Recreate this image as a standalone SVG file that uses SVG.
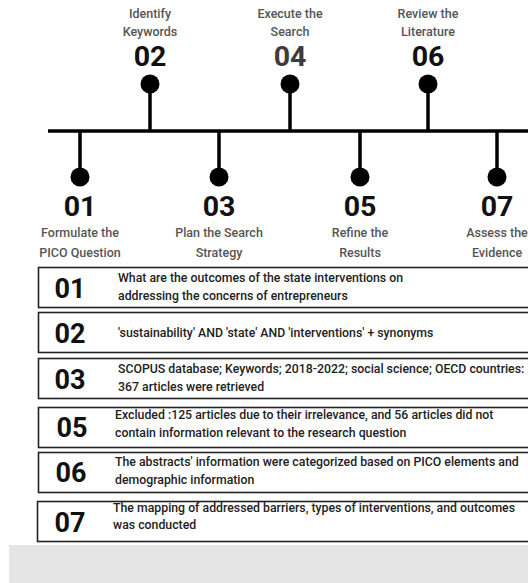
<svg xmlns="http://www.w3.org/2000/svg" width="528" height="583" viewBox="0 0 528 583">
<style>
.lbl{font-family:Roboto,"Liberation Sans",sans-serif;font-size:12.5px;font-weight:500;fill:#555;text-anchor:middle}
.num{font-family:Roboto,"Liberation Sans",sans-serif;font-size:28.5px;font-weight:700;fill:#111;text-anchor:middle}
.bnum{font-family:Roboto,"Liberation Sans",sans-serif;font-size:27px;font-weight:700;fill:#111;text-anchor:middle}
.txt{font-family:Roboto,"Liberation Sans",sans-serif;font-size:12.3px;font-weight:500;fill:#222}
.box{fill:#fff;stroke:#222;stroke-width:1.6}
.ln{stroke:#000;stroke-width:3.5;fill:none}
.dot{fill:#000}
</style>
<rect width="528" height="583" fill="#fff"/>
<rect x="9" y="545" width="519" height="38" fill="#e5e5e5"/>
<g id="connectors">
<line class="ln" x1="48" y1="131" x2="528" y2="131"/>
<line class="ln" x1="150" y1="84" x2="150" y2="131"/>
<line class="ln" x1="290" y1="84" x2="290" y2="131"/>
<line class="ln" x1="428" y1="84" x2="428" y2="131"/>
<line class="ln" x1="80" y1="131" x2="80" y2="177"/>
<line class="ln" x1="219" y1="131" x2="219" y2="177"/>
<line class="ln" x1="360" y1="131" x2="360" y2="177"/>
<line class="ln" x1="497" y1="131" x2="497" y2="177"/>
</g>
<g id="step02"><circle class="dot" cx="150" cy="84" r="9.5"/><text class="lbl" x="150" y="18">Identify</text><text class="lbl" x="150" y="36">Keywords</text><text class="num" x="150" y="66">02</text></g>
<g id="step04"><circle class="dot" cx="290" cy="84" r="9.5"/><text class="lbl" x="290" y="18">Execute the</text><text class="lbl" x="290" y="36">Search</text><text class="num" x="290" y="66" style="fill:#3c3c3c">04</text></g>
<g id="step06"><circle class="dot" cx="428" cy="84" r="9.5"/><text class="lbl" x="428" y="18">Review the</text><text class="lbl" x="428" y="36">Literature</text><text class="num" x="428" y="66">06</text></g>
<g id="step01"><circle class="dot" cx="80" cy="177" r="9.5"/><text class="num" x="80" y="216">01</text><text class="lbl" x="80" y="237">Formulate the</text><text class="lbl" x="80" y="257">PICO Question</text></g>
<g id="step03"><circle class="dot" cx="219" cy="177" r="9.5"/><text class="num" x="219" y="216">03</text><text class="lbl" x="219" y="237">Plan the Search</text><text class="lbl" x="219" y="257">Strategy</text></g>
<g id="step05"><circle class="dot" cx="360" cy="177" r="9.5"/><text class="num" x="360" y="216">05</text><text class="lbl" x="360" y="237">Refine the</text><text class="lbl" x="360" y="257">Results</text></g>
<g id="step07"><circle class="dot" cx="497" cy="177" r="9.5"/><text class="num" x="497" y="216">07</text><text class="lbl" x="497" y="237">Assess the</text><text class="lbl" x="497" y="257">Evidence</text></g>
<g id="box01"><rect class="box" x="38.5" y="267.5" width="500" height="40"/><text class="bnum" x="70" y="298">01</text><text class="txt" x="118" y="282">What are the outcomes of the state interventions on</text><text class="txt" x="118" y="300">addressing the concerns of entrepreneurs</text></g>
<g id="box02"><rect class="box" x="38.5" y="312.5" width="500" height="40"/><text class="bnum" x="70" y="343">02</text><text class="txt" x="118" y="337">'sustainability' AND 'state' AND 'interventions'  + synonyms</text></g>
<g id="box03"><rect class="box" x="38.5" y="358.5" width="500" height="40"/><text class="bnum" x="70" y="389">03</text><text class="txt" x="118" y="373">SCOPUS database; Keywords; 2018-2022; social science; OECD countries:</text><text class="txt" x="118" y="391">367 articles were retrieved</text></g>
<g id="box05"><rect class="box" x="38.5" y="407.5" width="500" height="40"/><text class="bnum" x="72" y="437">05</text><text class="txt" x="115" y="419">Excluded :125 articles due to their irrelevance, and 56 articles did not</text><text class="txt" x="115" y="437">contain information relevant to the research question</text></g>
<g id="box06"><rect class="box" x="38.5" y="452.5" width="500" height="40"/><text class="bnum" x="71" y="482">06</text><text class="txt" x="115" y="466">The abstracts' information were categorized based on PICO elements and</text><text class="txt" x="115" y="484">demographic information</text></g>
<g id="box07"><rect class="box" x="37.5" y="501.5" width="500" height="40"/><text class="bnum" x="70" y="532">07</text><text class="txt" x="113" y="512">The mapping of addressed barriers, types of interventions, and outcomes</text><text class="txt" x="113" y="529">was conducted</text></g>
</svg>
